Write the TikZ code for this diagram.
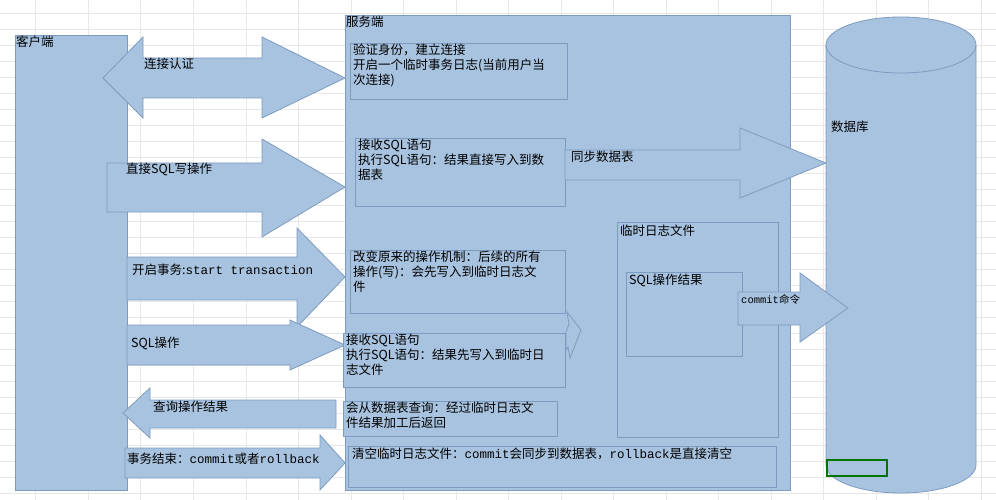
\documentclass[tikz,border=0pt]{standalone}
\usepackage{fontspec}
\setmainfont{Noto Sans CJK SC}
\newfontfamily\mono{Liberation Mono}
\begin{document}
\begin{tikzpicture}[x=1pt,y=-1pt]
\definecolor{sf}{HTML}{A8C3E0}
\definecolor{sb}{HTML}{7D9BC0}
\tikzset{shp/.style={fill=sf, draw=sb, line width=0.8pt},
  lbl/.style={anchor=north west, inner sep=1pt, font=\fontsize{12.5}{15}\selectfont, align=left}}
\useasboundingbox (0,0) rectangle (996,500);
\fill[white] (0,0) rectangle (996,500);
\foreach \x in {35,88,140,193,246,298,351,403,456,508,561,613,666,718,771,823,876,928,981}
  \draw[gray!18] (\x,0) -- (\x,500);
\foreach \y in {13,29,45,61,77,93,109,125,141,157,173,189,205,221,237,253,269,285,301,317,333,349,365,381,397,413,429,445,461,477,493}
  \draw[gray!18] (0,\y) -- (996,\y);
% client
\node[shp, minimum width=112, minimum height=455, anchor=north west] (client) at (15,35) {};
\node[lbl] at (client.north west) {客户端};
% server
\node[shp, minimum width=445, minimum height=475, anchor=north west] (server) at (345,15) {};
\node[lbl] at (server.north west) {服务端};
% database
\draw[shp] (826,45) -- (826,465) arc[start angle=180,end angle=0,x radius=75,y radius=28] -- (976,45) arc[start angle=0,end angle=-180,x radius=75,y radius=28] -- cycle;
\draw[sb, line width=0.8pt] (826,45) arc[start angle=180,end angle=0,x radius=75,y radius=28];
\node[lbl] (db) at (830,120) {数据库};
% arrows
\draw[shp] (103,78) -- (143,37) -- (143,58) -- (262,58) -- (262,37) -- (345,78) -- (262,118) -- (262,98) -- (143,98) -- (143,118) -- cycle;
\node[lbl] (a1) at (143,57) {连接认证};
\draw[shp] (107,163) -- (262,163) -- (262,139) -- (345,187) -- (262,237) -- (262,212) -- (107,212) -- cycle;
\node[lbl] (a2) at (125,162) {直接SQL写操作};
\draw[shp] (127,257) -- (297,257) -- (297,228) -- (345,277) -- (297,327) -- (297,300) -- (127,300) -- cycle;
\node[lbl] (a3) at (131,263) {开启事务:{\mono start transaction}};
\draw[shp] (127,325) -- (290,325) -- (290,320) -- (345,345) -- (290,370) -- (290,365) -- (127,365) -- cycle;
\node[lbl] (a4) at (130,336) {SQL操作};
\draw[shp] (123,413) -- (150,388) -- (150,400) -- (336,400) -- (336,428) -- (150,428) -- (150,438) -- cycle;
\node[lbl] (a5) at (152,400) {查询操作结果};
\draw[shp] (125,448) -- (320,448) -- (320,435) -- (345,463) -- (320,490) -- (320,478) -- (125,478) -- cycle;
\node[lbl] (a6) at (126,452) {事务结束：{\mono commit}或者{\mono rollback}};
% server boxes
\node[shp, minimum width=217, minimum height=56, anchor=north west] (b1) at (350,43) {};
\node[lbl] at ([xshift=2pt]b1.north west) {验证身份，建立连接\\开启一个临时事务日志(当前用户当\\次连接)};
\node[shp, minimum width=210, minimum height=68, anchor=north west] (b2) at (355,138) {};
\node[lbl] at ([xshift=2pt]b2.north west) {接收SQL语句\\执行SQL语句：结果直接写入到数\\据表};
\node[shp, minimum width=215, minimum height=63, anchor=north west] (b3) at (350,250) {};
\node[lbl] at ([xshift=2pt]b3.north west) {改变原来的操作机制：后续的所有\\操作(写)：会先写入到临时日志文\\件};
\node[shp, minimum width=222, minimum height=54, anchor=north west] (b4) at (343,333) {};
\node[lbl] at ([xshift=2pt]b4.north west) {接收SQL语句\\执行SQL语句：结果先写入到临时日\\志文件};
\node[shp, minimum width=214, minimum height=35, anchor=north west] (b5) at (343,401) {};
\node[lbl] at ([xshift=2pt]b5.north west) {会从数据表查询：经过临时日志文\\件结果加工后返回};
\node[shp, minimum width=428, minimum height=41, anchor=north west] (b6) at (348,446) {};
\node[lbl] at ([xshift=3pt,yshift=-1pt]b6.north west) {清空临时日志文件：{\mono commit}会同步到数据表，{\mono rollback}是直接清空};
\node[shp, minimum width=161, minimum height=215, anchor=north west] (log) at (617,222) {};
\node[lbl] at ([xshift=2pt,yshift=-2pt]log.north west) {临时日志文件};
\node[shp, minimum width=116, minimum height=84, anchor=north west] (res) at (626,272) {};
\node[lbl] at ([xshift=2pt,yshift=-1pt]res.north west) {SQL操作结果};
% sync arrow
\draw[shp] (565,150) -- (740,150) -- (740,128) -- (826,163) -- (740,198) -- (740,180) -- (565,180) -- cycle;
\node[lbl] (a7) at (570,150) {同步数据表};
% commit arrow
\draw[shp] (738,292) -- (800,292) -- (800,273) -- (848,308) -- (800,342) -- (800,325) -- (738,325) -- cycle;
\node[lbl, font=\fontsize{10.5}{12}\selectfont] (a8) at (740,293) {{\mono commit}命令};
% small arrow b4 -> res
\draw[shp] (566,332) -- (569,324) -- (567,312) -- (581,330) -- (570,358) -- (568,347) -- (566,350) -- cycle;
% green cell
\node[draw=green!45!black, line width=1.5pt, minimum width=60, minimum height=16, anchor=north west] (cell) at (826,459) {};
\end{tikzpicture}
\end{document}
